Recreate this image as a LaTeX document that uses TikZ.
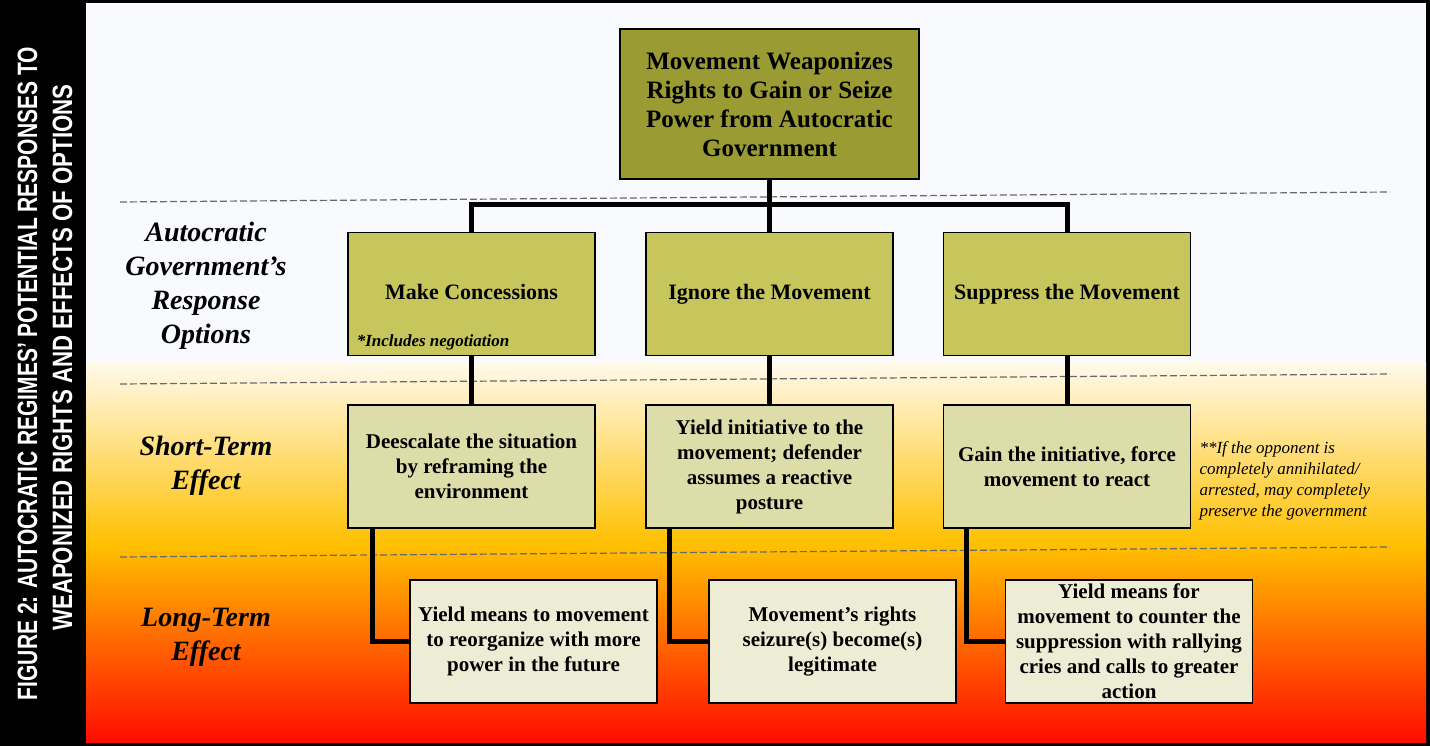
\documentclass[tikz,border=0pt]{standalone}
\usepackage{fontspec}
\setmainfont{Liberation Serif}
\newfontfamily\barfont[FakeStretch=0.75]{Liberation Sans}
\newfontfamily\barfontwide[FakeStretch=0.795]{Liberation Sans}
\definecolor{topolive}{RGB}{155,155,51}
\definecolor{optgreen}{RGB}{198,198,92}
\definecolor{shortkhaki}{RGB}{221,221,170}
\definecolor{longcream}{RGB}{237,237,213}
\definecolor{skywhite}{RGB}{248,250,253}
\definecolor{creamtop}{RGB}{255,250,236}
\definecolor{gold}{RGB}{255,192,0}
\definecolor{midorange}{RGB}{255,110,0}
\definecolor{flame}{RGB}{255,12,0}
\definecolor{sepgray}{RGB}{105,105,105}
\begin{document}
\begin{tikzpicture}[x=1pt,y=-1pt,
  box/.style={draw=black,line width=1.5pt,inner sep=0pt,minimum width=247pt,minimum height=123pt,align=center,font=\bfseries\fontsize{21}{25}\selectfont},
  optbox/.style={box,fill=optgreen,font=\bfseries\fontsize{22}{26}\selectfont},
  shortbox/.style={box,fill=shortkhaki},
  longbox/.style={box,fill=longcream},
  rowlabel/.style={align=center,font=\bfseries\itshape\fontsize{28}{34}\selectfont},
  bartext/.style={rotate=90,anchor=base,text=white},
  conn/.style={line width=5pt},
  sep/.style={sepgray,line width=1.2pt,dash pattern=on 7pt off 3pt}]
\useasboundingbox (0,0) rectangle (1430,746);
% frame and background bands
\fill[black] (0,0) rectangle (1430,746);
\fill[skywhite] (86,3) rectangle (1426,362);
\shade[top color=creamtop,bottom color=gold] (86,362) rectangle (1426,545);
\shade[top color=gold,middle color=midorange,bottom color=flame] (86,545) rectangle (1426,742);
\node[bartext,font=\barfont\bfseries\fontsize{28}{34}\selectfont] (title1) at (37,373.5) {FIGURE 2: AUTOCRATIC REGIMES’ POTENTIAL RESPONSES TO};
\node[bartext,font=\barfontwide\bfseries\fontsize{28}{34}\selectfont] (title2) at (72,357.5) {WEAPONIZED RIGHTS AND EFFECTS OF OPTIONS};
% dashed separators
\draw[sep] (120,202) -- (1390,192);
\draw[sep] (120,384) -- (1390,374);
\draw[sep] (120,557) -- (1390,547);
% row labels
\node[rowlabel] (lresp) at (206,286) {Autocratic\\Government’s\\Response\\Options};
\node[rowlabel] (lshort) at (206,466) {Short-Term\\Effect};
\node[rowlabel] (llong) at (206,637) {Long-Term\\Effect};
% boxes
\node[box,fill=topolive,minimum width=299pt,minimum height=150pt,font=\bfseries\fontsize{25}{29}\selectfont] (weapon) at (769.5,104) {Movement Weaponizes\\Rights to Gain or Seize\\Power from Autocratic\\Government};
\node[optbox] (concede) at (471.5,294) {Make Concessions\strut};
\node[optbox] (ignore) at (769.5,294) {Ignore the Movement\strut};
\node[optbox] (suppress) at (1067,294) {Suppress the Movement\strut};
\node[anchor=base west,font=\bfseries\itshape\fontsize{17}{20}\selectfont] (concnote) at ([xshift=6pt,yshift=9.5pt]concede.south west) {*Includes negotiation};
\node[shortbox] (deesc) at (471.5,466.5) {Deescalate the situation\\by reframing the\\environment};
\node[shortbox] (yieldinit) at (769.5,466.5) {Yield initiative to the\\movement; defender\\assumes a reactive\\posture};
\node[shortbox] (gaininit) at (1067,466.5) {Gain the initiative, force\\movement to react};
\node[anchor=west,align=left,font=\itshape\fontsize{17}{21}\selectfont] (annote) at (1196,481) {**If the opponent is\\completely annihilated/\\arrested, may completely\\preserve the government};
\node[longbox] (reorg) at (533.5,641.5) {Yield means to movement\\to reorganize with more\\power in the future};
\node[longbox] (legit) at (832.5,641.5) {Movement’s rights\\seizure(s) become(s)\\legitimate};
\node[longbox] (rally) at (1129,641.5) {Yield means for\\movement to counter the\\suppression with rallying\\cries and calls to greater\\action};
% connectors
\coordinate (bus) at (769.5,205);
\draw[conn] (weapon) -- (ignore);
\draw[conn] (concede.north) |- (bus) -| (suppress.north);
\draw[conn] (concede) -- (deesc);
\draw[conn] (ignore) -- (yieldinit);
\draw[conn] (suppress) -- (gaininit);
\draw[conn] ([xshift=25pt]deesc.south west) |- (reorg.west);
\draw[conn] ([xshift=24pt]yieldinit.south west) |- (legit.west);
\draw[conn] ([xshift=24pt]gaininit.south west) |- (rally.west);
\end{tikzpicture}
\end{document}
